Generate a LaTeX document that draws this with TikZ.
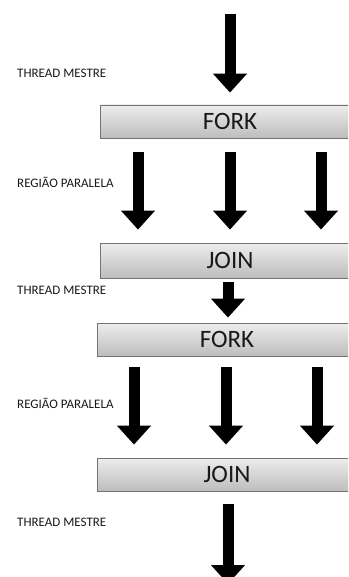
\documentclass[tikz,border=0pt]{standalone}
\usepackage{fontspec}
\setmainfont{Carlito}
\usepackage{tikz}
\usetikzlibrary{arrows.meta,positioning}

\begin{document}
\begin{tikzpicture}[x=1pt, y=1pt,
  box/.style={draw=black!55, line width=0.8pt, top color=black!7, bottom color=black!26,
    minimum width=260pt, minimum height=33pt, inner sep=0pt, text=black!90, font=\fontsize{25}{25}\selectfont},
  lbl/.style={anchor=west, inner sep=0pt, text=black!90, font=\fontsize{13}{13}\selectfont},
  arr/.style={line width=11pt, -{Triangle[width=33pt,length=19pt]}}]
\useasboundingbox (0,0) rectangle (348,-577);
\clip (0,0) rectangle (348,-577);
\node[box] (fork1) at (230,-121.5) {FORK};
\node[box, minimum height=35pt] (join1) at (230,-260.5) {JOIN};
\node[box] (fork2) at (227,-339.5) {FORK};
\node[box] (join2) at (227,-474.5) {JOIN};
\coordinate (start) at (230,-14);
\coordinate (finish) at (228,-584);
\node[lbl] (m1) at (17,-73) {THREAD MESTRE};
\node[lbl] (p1) at (17,-182) {REGIÃO PARALELA};
\node[lbl] (m2) at (17,-290) {THREAD MESTRE};
\node[lbl] (p2) at (17,-403) {REGIÃO PARALELA};
\node[lbl] (m3) at (17,-522) {THREAD MESTRE};
% master thread in and out
\draw[arr, shorten >=12pt] (start) -- (fork1.north);
\draw[arr, shorten <=4pt, shorten >=5pt] ([xshift=-2pt]join1.south) -- ([xshift=1pt]fork2.north);
\draw[arr, shorten <=13pt] ([xshift=1pt]join2.south) -- (finish);
% parallel threads
\foreach \dx in {-92,0,91}
  \draw[arr, shorten <=14pt, shorten >=13pt] ([xshift=\dx pt]fork1.south) -- ([xshift=\dx pt]join1.north);
\foreach \dx in {-93,-1,90}
  \draw[arr, shorten <=11pt, shorten >=13pt] ([xshift=\dx pt]fork2.south) -- ([xshift=\dx pt]join2.north);
\end{tikzpicture}
\end{document}
